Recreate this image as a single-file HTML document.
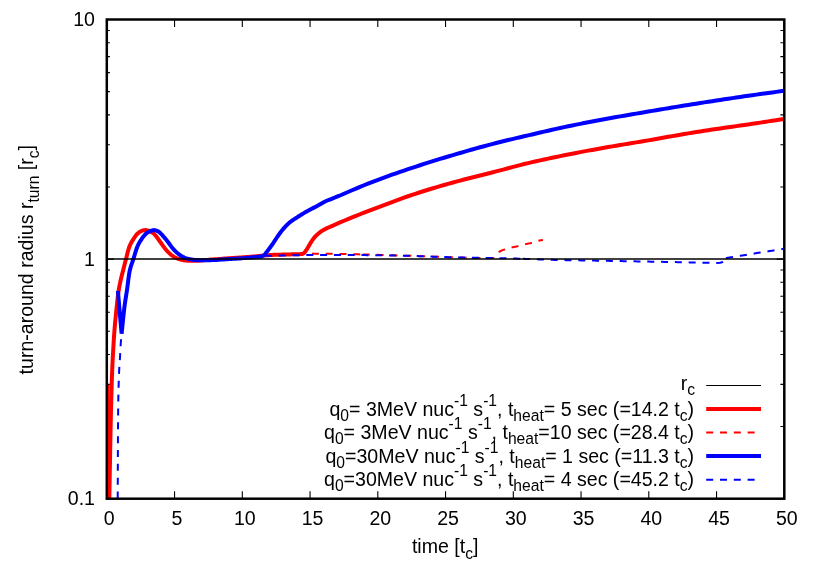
<!DOCTYPE html>
<html><head><meta charset="utf-8"><title>turn-around radius</title>
<style>html,body{margin:0;padding:0;background:#fff}body{width:830px;height:581px;overflow:hidden;font-family:"Liberation Sans", sans-serif}svg{display:block;will-change:transform}</style></head>
<body>
<svg width="830" height="581" viewBox="0 0 830 581" font-family='"Liberation Sans", sans-serif' font-size="19.58" fill="#000">
<rect width="830" height="581" fill="#fff"/>
<defs><clipPath id="c"><rect x="106.8" y="19.5" width="677.5" height="479.2"/></clipPath></defs>
<path d="M106.8,498.7 V491.2 M106.8,19.5 V26.9 M174.55,498.7 V491.2 M174.55,19.5 V26.9 M242.3,498.7 V491.2 M242.3,19.5 V26.9 M310.05,498.7 V491.2 M310.05,19.5 V26.9 M377.8,498.7 V491.2 M377.8,19.5 V26.9 M445.55,498.7 V491.2 M445.55,19.5 V26.9 M513.3,498.7 V491.2 M513.3,19.5 V26.9 M581.05,498.7 V491.2 M581.05,19.5 V26.9 M648.8,498.7 V491.2 M648.8,19.5 V26.9 M716.55,498.7 V491.2 M716.55,19.5 V26.9 M784.3,498.7 V491.2 M784.3,19.5 V26.9 M106.8,498.7 H113.9 M784.3,498.7 H776.8 M106.8,426.57 H109.9 M784.3,426.57 H780.4 M106.8,384.38 H109.9 M784.3,384.38 H780.4 M106.8,354.45 H109.9 M784.3,354.45 H780.4 M106.8,331.23 H109.9 M784.3,331.23 H780.4 M106.8,312.25 H109.9 M784.3,312.25 H780.4 M106.8,296.21 H109.9 M784.3,296.21 H780.4 M106.8,282.32 H109.9 M784.3,282.32 H780.4 M106.8,270.06 H109.9 M784.3,270.06 H780.4 M106.8,259.1 H113.9 M784.3,259.1 H776.8 M106.8,186.97 H109.9 M784.3,186.97 H780.4 M106.8,144.78 H109.9 M784.3,144.78 H780.4 M106.8,114.85 H109.9 M784.3,114.85 H780.4 M106.8,91.63 H109.9 M784.3,91.63 H780.4 M106.8,72.65 H109.9 M784.3,72.65 H780.4 M106.8,56.61 H109.9 M784.3,56.61 H780.4 M106.8,42.72 H109.9 M784.3,42.72 H780.4 M106.8,30.46 H109.9 M784.3,30.46 H780.4" stroke="#000" stroke-width="1.1" fill="none"/>
<g clip-path="url(#c)" fill="none" stroke-linejoin="miter" stroke-linecap="butt">
<path d="M107.6,385 L108.8,500" stroke="#ff0000" stroke-width="4"/>
<path d="M109.3,500 L109.41,493.71 L109.53,487.37 L109.64,481.01 L109.75,474.65 L109.86,468.34 L109.98,462.11 L110.09,455.98 L110.2,450 L110.3,444.79 L110.39,439.69 L110.48,434.67 L110.58,429.72 L110.67,424.8 L110.77,419.9 L110.88,414.97 L111,410 L111.13,404.91 L111.27,399.68 L111.41,394.4 L111.56,389.14 L111.71,383.99 L111.87,379.03 L112.04,374.34 L112.2,370 L112.32,367.17 L112.43,364.52 L112.55,362 L112.67,359.57 L112.8,357.2 L112.93,354.84 L113.06,352.45 L113.2,350 L113.34,347.51 L113.49,345.05 L113.63,342.6 L113.78,340.14 L113.94,337.66 L114.11,335.15 L114.3,332.61 L114.5,330 L114.75,326.96 L115.03,323.77 L115.33,320.51 L115.65,317.22 L115.97,313.97 L116.29,310.81 L116.6,307.8 L116.9,305 L117.11,303.04 L117.31,301.17 L117.51,299.38 L117.71,297.64 L117.92,295.94 L118.13,294.28 L118.35,292.64 L118.6,291 L118.83,289.55 L119.07,288.14 L119.32,286.75 L119.58,285.38 L119.85,284.02 L120.13,282.68 L120.41,281.34 L120.7,280 L120.99,278.73 L121.29,277.47 L121.6,276.23 L121.91,275 L122.23,273.76 L122.55,272.52 L122.88,271.27 L123.2,270 L123.54,268.66 L123.88,267.31 L124.22,265.95 L124.56,264.58 L124.91,263.21 L125.26,261.82 L125.63,260.42 L126,259 L126.42,257.4 L126.83,255.72 L127.26,254.01 L127.7,252.28 L128.15,250.6 L128.61,248.98 L129.1,247.47 L129.6,246.1 L129.97,245.22 L130.34,244.41 L130.72,243.65 L131.11,242.92 L131.51,242.22 L131.92,241.52 L132.35,240.82 L132.8,240.1 L133.3,239.31 L133.82,238.49 L134.36,237.67 L134.91,236.86 L135.48,236.07 L136.05,235.32 L136.63,234.63 L137.2,234 L137.65,233.55 L138.09,233.14 L138.54,232.75 L139,232.38 L139.46,232.05 L139.92,231.74 L140.4,231.46 L140.9,231.2 L141.39,230.97 L141.9,230.77 L142.42,230.58 L142.94,230.42 L143.48,230.29 L144.01,230.19 L144.56,230.13 L145.1,230.1 L145.69,230.11 L146.29,230.17 L146.9,230.26 L147.51,230.39 L148.12,230.55 L148.73,230.74 L149.32,230.96 L149.9,231.2 L150.5,231.48 L151.09,231.79 L151.66,232.14 L152.23,232.51 L152.79,232.92 L153.36,233.37 L153.93,233.87 L154.5,234.4 L155.31,235.25 L156.12,236.22 L156.94,237.29 L157.76,238.42 L158.57,239.59 L159.39,240.76 L160.2,241.91 L161,243 L161.76,244.02 L162.5,245.05 L163.23,246.08 L163.97,247.1 L164.7,248.1 L165.45,249.08 L166.21,250.01 L167,250.9 L167.73,251.67 L168.47,252.42 L169.22,253.15 L169.97,253.86 L170.74,254.53 L171.52,255.16 L172.31,255.75 L173.1,256.3 L173.83,256.75 L174.56,257.17 L175.3,257.56 L176.06,257.91 L176.81,258.24 L177.57,258.55 L178.34,258.83 L179.1,259.1 L179.84,259.33 L180.57,259.54 L181.31,259.73 L182.06,259.89 L182.8,260.04 L183.56,260.17 L184.33,260.29 L185.1,260.4 L185.93,260.5 L186.77,260.59 L187.62,260.65 L188.48,260.7 L189.35,260.74 L190.23,260.77 L191.11,260.79 L192,260.8 L192.95,260.8 L193.9,260.79 L194.85,260.76 L195.81,260.73 L196.79,260.68 L197.81,260.63 L198.88,260.57 L200,260.5 L201.65,260.39 L203.42,260.26 L205.28,260.11 L207.21,259.95 L209.17,259.78 L211.14,259.61 L213.09,259.45 L215,259.3 L216.87,259.16 L218.75,259.02 L220.62,258.88 L222.5,258.74 L224.37,258.6 L226.25,258.47 L228.12,258.33 L230,258.2 L231.9,258.07 L233.82,257.94 L235.76,257.82 L237.69,257.69 L239.6,257.57 L241.46,257.45 L243.27,257.32 L245,257.2 L246.35,257.1 L247.64,257 L248.9,256.91 L250.13,256.81 L251.34,256.71 L252.55,256.61 L253.76,256.51 L255,256.4 L256.25,256.28 L257.5,256.15 L258.75,256.02 L260,255.89 L261.25,255.75 L262.5,255.63 L263.75,255.51 L265,255.4 L266.24,255.3 L267.48,255.21 L268.71,255.13 L269.94,255.06 L271.18,254.98 L272.44,254.92 L273.71,254.86 L275,254.8 L276.44,254.75 L277.91,254.7 L279.39,254.66 L280.89,254.63 L282.4,254.6 L283.92,254.57 L285.46,254.54 L287,254.5 L288.65,254.45 L290.32,254.41 L292,254.36 L293.7,254.31 L295.4,254.25 L297.11,254.2 L298.81,254.15 L300.5,254.1 L300.79,254.07 L301.09,254.05 L301.38,254.04 L301.68,254.02 L301.97,253.99 L302.26,253.95 L302.54,253.89 L302.8,253.8 L303.05,253.69 L303.28,253.55 L303.5,253.41 L303.72,253.24 L303.94,253.06 L304.15,252.86 L304.37,252.64 L304.6,252.4 L304.96,251.99 L305.32,251.52 L305.69,251 L306.06,250.43 L306.44,249.85 L306.82,249.24 L307.21,248.62 L307.6,248 L308.08,247.22 L308.57,246.4 L309.06,245.54 L309.57,244.66 L310.07,243.78 L310.58,242.91 L311.09,242.08 L311.6,241.3 L312.04,240.66 L312.46,240.04 L312.89,239.44 L313.32,238.86 L313.76,238.29 L314.21,237.72 L314.69,237.16 L315.2,236.6 L315.79,235.98 L316.41,235.36 L317.06,234.75 L317.73,234.14 L318.41,233.55 L319.1,232.97 L319.8,232.42 L320.5,231.9 L321.17,231.43 L321.84,230.98 L322.52,230.56 L323.21,230.15 L323.91,229.76 L324.62,229.37 L325.35,228.99 L326.1,228.6 L326.96,228.18 L327.85,227.77 L328.77,227.36 L329.7,226.97 L330.64,226.57 L331.58,226.18 L332.5,225.79 L333.4,225.4 L334.24,225.02 L335.07,224.65 L335.9,224.27 L336.72,223.9 L337.54,223.52 L338.36,223.15 L339.18,222.77 L340,222.4 L344,220.74 L348.01,219.1 L352.01,217.47 L356.01,215.86 L360.01,214.26 L364.02,212.68 L368.02,211.12 L372.02,209.57 L376.02,208.04 L380.03,206.52 L384.03,205.01 L388.03,203.51 L392.04,202.02 L396.04,200.54 L400.04,199.08 L404.04,197.65 L408.05,196.25 L412.05,194.87 L416.05,193.54 L420.05,192.25 L424.06,190.98 L428.06,189.75 L432.06,188.53 L436.06,187.34 L440.07,186.17 L444.07,185.02 L448.07,183.89 L452.08,182.77 L456.08,181.67 L460.08,180.59 L464.08,179.53 L468.09,178.49 L472.09,177.47 L476.09,176.47 L480.09,175.46 L484.1,174.47 L488.1,173.46 L492.1,172.45 L496.11,171.43 L500.11,170.39 L504.11,169.33 L508.11,168.26 L512.12,167.18 L516.12,166.12 L520.12,165.08 L524.12,164.06 L528.13,163.09 L532.13,162.15 L536.13,161.24 L540.14,160.34 L544.14,159.46 L548.14,158.6 L552.14,157.76 L556.15,156.92 L560.15,156.1 L564.15,155.29 L568.15,154.49 L572.16,153.7 L576.16,152.92 L580.16,152.15 L584.16,151.4 L588.17,150.65 L592.17,149.91 L596.17,149.19 L600.18,148.46 L604.18,147.75 L608.18,147.05 L612.18,146.36 L616.19,145.68 L620.19,145.01 L624.19,144.35 L628.19,143.69 L632.2,143.03 L636.2,142.37 L640.2,141.71 L644.21,141.03 L648.21,140.35 L652.21,139.66 L656.21,138.96 L660.22,138.25 L664.22,137.55 L668.22,136.84 L672.22,136.13 L676.23,135.43 L680.23,134.73 L684.23,134.04 L688.24,133.36 L692.24,132.7 L696.24,132.05 L700.24,131.41 L704.25,130.8 L708.25,130.19 L712.25,129.59 L716.25,129 L720.26,128.42 L724.26,127.85 L728.26,127.28 L732.26,126.7 L736.27,126.13 L740.27,125.56 L744.27,124.98 L748.28,124.4 L752.28,123.81 L756.28,123.21 L760.28,122.61 L764.29,122 L768.29,121.38 L772.29,120.77 L776.29,120.15 L780.3,119.52 L784.3,118.9" stroke="#ff0000" stroke-width="4"/>
<path d="M300,253.9 L301.5,253.89 L303,253.87 L304.5,253.86 L306,253.85 L307.5,253.84 L309,253.83 L310.5,253.83 L312,253.82 L313.5,253.82 L315,253.81 L316.5,253.81 L318,253.81 L319.5,253.8 L321,253.8 L322.5,253.8 L324,253.8 L325.5,253.8 L327,253.8 L328.5,253.8 L330,253.8 L331.5,253.8 L333,253.81 L334.5,253.82 L336,253.84 L337.5,253.86 L339,253.89 L340.5,253.91 L342,253.95 L343.5,253.98 L345,254.01 L346.5,254.05 L348,254.09 L349.5,254.13 L351,254.17 L352.5,254.21 L354,254.25 L355.5,254.29 L357,254.33 L358.5,254.36 L360,254.4 L361.5,254.43" stroke="#ff0000" stroke-width="2" stroke-dasharray="7 6.8" stroke-dashoffset="1.9"/>
<path d="M361.5,254.43 L363,254.47 L364.5,254.51 L366,254.54 L367.5,254.58 L369,254.62 L370.5,254.66 L372,254.7 L373.5,254.74 L375,254.78 L376.5,254.82 L378,254.86 L379.5,254.9 L381,254.94 L382.5,254.98 L384,255.03 L385.5,255.07 L387,255.11 L388.5,255.16 L390,255.2 L391.5,255.25 L393,255.29 L394.5,255.33 L396,255.38 L397.5,255.42 L399,255.47 L400.5,255.52 L402,255.56 L403.5,255.61 L405,255.66 L406.5,255.71 L408,255.76 L409.5,255.81 L411,255.86 L412.5,255.91 L414,255.97 L415.5,256.02 L417,256.07 L418.5,256.13 L420,256.18 L421.5,256.24 L423,256.29 L424.5,256.35 L426,256.4 L427.5,256.45 L429,256.51 L430.5,256.56 L432,256.62 L433.5,256.67 L435,256.72 L436.5,256.77 L438,256.82 L439.5,256.88 L441,256.92 L442.5,256.97 L444,257.02 L445.5,257.07 L447,257.11 L448.5,257.16 L450,257.2 L451.5,257.24 L453,257.29 L454.5,257.33 L456,257.38 L457.5,257.43 L459,257.48 L460.5,257.53 L462,257.58 L463.5,257.63 L465,257.67 L466.5,257.72 L468,257.77 L469.5,257.81 L471,257.85 L472.5,257.89 L474,257.93 L475.5,257.96 L477,257.99 L478.5,258.02 L480,258.05 L481.5,258.07 L483,258.08 L484.5,258.09 L486,258.1 L487.5,258.1 L489,258.09 L490.5,258.06 L492,258.03 L493.5,258 L494.12,257.3 L494.75,256.57 L495.39,255.83 L496.02,255.1 L496.65,254.39 L497.26,253.72 L497.84,253.12 L498.4,252.6 L498.74,252.3 L499.07,252.04 L499.38,251.8 L499.68,251.58 L499.99,251.37 L500.31,251.18 L500.64,250.99 L501,250.8 L501.44,250.59 L501.9,250.4 L502.38,250.22 L502.88,250.06 L503.39,249.9 L503.91,249.74 L504.45,249.57 L505,249.4 L505.7,249.18 L506.44,248.95 L507.2,248.71 L507.98,248.48 L508.78,248.25 L509.58,248.03 L510.39,247.81 L511.2,247.6 L512.06,247.39 L512.95,247.2 L513.84,247.02 L514.74,246.85 L515.64,246.67 L516.54,246.49 L517.43,246.3 L518.3,246.1 L519.13,245.89 L519.94,245.67 L520.75,245.44 L521.55,245.2 L522.36,244.97 L523.16,244.73 L523.98,244.51 L524.8,244.3 L525.66,244.1 L526.54,243.91 L527.42,243.74 L528.31,243.56 L529.19,243.39 L530.07,243.21 L530.94,243.01 L531.8,242.8 L532.61,242.57 L533.42,242.31 L534.23,242.04 L535.02,241.76 L535.81,241.49 L536.59,241.23 L537.35,241 L538.1,240.8 L538.73,240.66 L539.34,240.54 L539.94,240.44 L540.53,240.35 L541.12,240.26 L541.71,240.18 L542.3,240.09 L542.9,240" stroke="#ff0000" stroke-width="2" stroke-dasharray="7 6.85" stroke-dashoffset="12.6"/>
<path d="M117.9,290.8 L121.6,333.7 L121.99,330.05 L122.37,326.31 L122.76,322.53 L123.14,318.77 L123.53,315.08 L123.92,311.52 L124.31,308.14 L124.7,305 L124.98,302.91 L125.27,300.96 L125.55,299.11 L125.83,297.33 L126.12,295.57 L126.41,293.79 L126.7,291.95 L127,290 L127.34,287.6 L127.66,285.06 L127.98,282.44 L128.31,279.79 L128.66,277.17 L129.03,274.63 L129.44,272.22 L129.9,270 L130.28,268.46 L130.69,267.02 L131.11,265.65 L131.56,264.33 L132.01,263.03 L132.47,261.73 L132.94,260.39 L133.4,259 L133.9,257.4 L134.41,255.72 L134.92,254.01 L135.44,252.29 L135.97,250.6 L136.5,248.98 L137.05,247.47 L137.6,246.1 L137.99,245.22 L138.38,244.41 L138.77,243.65 L139.16,242.92 L139.57,242.22 L139.99,241.52 L140.43,240.82 L140.9,240.1 L141.44,239.3 L142.01,238.48 L142.6,237.65 L143.22,236.82 L143.84,236.03 L144.47,235.29 L145.09,234.6 L145.7,234 L146.14,233.61 L146.58,233.25 L147.02,232.92 L147.45,232.63 L147.9,232.35 L148.35,232.09 L148.82,231.84 L149.3,231.6 L149.84,231.34 L150.39,231.08 L150.97,230.83 L151.55,230.6 L152.14,230.4 L152.73,230.24 L153.32,230.14 L153.9,230.1 L154.49,230.14 L155.09,230.23 L155.7,230.39 L156.31,230.58 L156.9,230.81 L157.47,231.07 L158.01,231.33 L158.5,231.6 L158.86,231.82 L159.19,232.05 L159.49,232.3 L159.77,232.55 L160.05,232.83 L160.34,233.13 L160.66,233.45 L161,233.8 L161.64,234.46 L162.34,235.22 L163.09,236.06 L163.87,236.95 L164.66,237.88 L165.46,238.83 L166.24,239.77 L167,240.7 L167.77,241.68 L168.53,242.71 L169.28,243.76 L170.03,244.81 L170.78,245.86 L171.54,246.89 L172.31,247.87 L173.1,248.8 L173.82,249.6 L174.55,250.38 L175.29,251.15 L176.03,251.88 L176.78,252.59 L177.55,253.26 L178.32,253.9 L179.1,254.5 L179.82,255.01 L180.56,255.49 L181.3,255.94 L182.05,256.37 L182.8,256.76 L183.57,257.13 L184.33,257.48 L185.1,257.8 L185.84,258.08 L186.58,258.33 L187.32,258.55 L188.07,258.75 L188.83,258.93 L189.58,259.1 L190.34,259.25 L191.1,259.4 L191.85,259.53 L192.59,259.65 L193.33,259.75 L194.07,259.84 L194.82,259.91 L195.59,259.98 L196.38,260.04 L197.2,260.1 L198.21,260.16 L199.25,260.21 L200.32,260.25 L201.41,260.28 L202.53,260.3 L203.67,260.31 L204.82,260.31 L206,260.3 L207.41,260.28 L208.87,260.24 L210.36,260.18 L211.88,260.12 L213.42,260.04 L214.96,259.96 L216.49,259.88 L218,259.8 L219.51,259.71 L221.03,259.62 L222.55,259.52 L224.07,259.41 L225.58,259.3 L227.08,259.2 L228.55,259.09 L230,259 L231.28,258.92 L232.52,258.85 L233.74,258.78 L234.95,258.72 L236.16,258.65 L237.4,258.57 L238.67,258.49 L240,258.4 L241.7,258.27 L243.51,258.13 L245.39,257.98 L247.3,257.82 L249.18,257.65 L251.01,257.49 L252.73,257.34 L254.3,257.2 L255.32,257.11 L256.27,257.02 L257.18,256.93 L258.05,256.84 L258.91,256.76 L259.76,256.67 L260.62,256.59 L261.5,256.5 L261.82,256.34 L262.14,256.2 L262.46,256.05 L262.79,255.9 L263.11,255.75 L263.42,255.59 L263.72,255.4 L264,255.2 L264.26,254.98 L264.5,254.75 L264.72,254.5 L264.93,254.25 L265.15,253.97 L265.37,253.67 L265.62,253.35 L265.9,253 L266.5,252.25 L267.17,251.38 L267.91,250.42 L268.69,249.38 L269.5,248.3 L270.32,247.19 L271.12,246.09 L271.9,245 L272.74,243.79 L273.61,242.5 L274.49,241.18 L275.36,239.85 L276.22,238.53 L277.05,237.27 L277.85,236.08 L278.6,235 L279.09,234.31 L279.56,233.66 L280.01,233.04 L280.45,232.45 L280.88,231.88 L281.31,231.32 L281.75,230.76 L282.2,230.2 L282.64,229.66 L283.08,229.13 L283.53,228.61 L283.98,228.09 L284.43,227.58 L284.88,227.08 L285.34,226.59 L285.8,226.1 L286.25,225.64 L286.71,225.18 L287.17,224.72 L287.63,224.28 L288.1,223.84 L288.56,223.41 L289.03,223 L289.5,222.6 L289.93,222.24 L290.37,221.9 L290.8,221.57 L291.23,221.25 L291.67,220.93 L292.11,220.62 L292.55,220.31 L293,220 L293.45,219.69 L293.88,219.4 L294.32,219.12 L294.76,218.83 L295.21,218.54 L295.68,218.24 L296.18,217.93 L296.7,217.6 L297.48,217.1 L298.33,216.56 L299.22,215.99 L300.14,215.41 L301.08,214.81 L302.03,214.22 L302.98,213.65 L303.9,213.1 L304.8,212.58 L305.71,212.07 L306.63,211.56 L307.54,211.07 L308.46,210.58 L309.37,210.08 L310.29,209.59 L311.2,209.1 L312.1,208.61 L313,208.12 L313.9,207.63 L314.8,207.15 L315.7,206.66 L316.6,206.17 L317.5,205.69 L318.4,205.2 L319.29,204.71 L320.17,204.21 L321.05,203.72 L321.93,203.22 L322.81,202.73 L323.72,202.24 L324.64,201.77 L325.6,201.3 L326.73,200.79 L327.92,200.28 L329.15,199.78 L330.39,199.29 L331.63,198.81 L332.82,198.35 L333.96,197.91 L335,197.5 L335.7,197.22 L336.36,196.95 L336.99,196.7 L337.6,196.46 L338.19,196.22 L338.79,195.98 L339.39,195.75 L340,195.5 L344,193.73 L348.01,191.98 L352.01,190.26 L356.01,188.57 L360.01,186.9 L364.02,185.27 L368.02,183.66 L372.02,182.09 L376.02,180.54 L380.03,179.03 L384.03,177.54 L388.03,176.09 L392.04,174.67 L396.04,173.27 L400.04,171.89 L404.04,170.53 L408.05,169.19 L412.05,167.86 L416.05,166.54 L420.05,165.24 L424.06,163.95 L428.06,162.68 L432.06,161.42 L436.06,160.17 L440.07,158.94 L444.07,157.73 L448.07,156.53 L452.08,155.34 L456.08,154.16 L460.08,152.99 L464.08,151.83 L468.09,150.68 L472.09,149.54 L476.09,148.42 L480.09,147.3 L484.1,146.21 L488.1,145.13 L492.1,144.07 L496.11,143.03 L500.11,142.01 L504.11,141.03 L508.11,140.06 L512.12,139.11 L516.12,138.17 L520.12,137.24 L524.12,136.32 L528.13,135.39 L532.13,134.45 L536.13,133.51 L540.14,132.57 L544.14,131.64 L548.14,130.71 L552.14,129.79 L556.15,128.89 L560.15,128 L564.15,127.13 L568.15,126.28 L572.16,125.45 L576.16,124.64 L580.16,123.84 L584.16,123.05 L588.17,122.28 L592.17,121.51 L596.17,120.75 L600.18,120.01 L604.18,119.26 L608.18,118.53 L612.18,117.8 L616.19,117.08 L620.19,116.37 L624.19,115.67 L628.19,114.98 L632.2,114.29 L636.2,113.6 L640.2,112.92 L644.21,112.24 L648.21,111.56 L652.21,110.88 L656.21,110.2 L660.22,109.53 L664.22,108.86 L668.22,108.19 L672.22,107.53 L676.23,106.87 L680.23,106.22 L684.23,105.57 L688.24,104.92 L692.24,104.28 L696.24,103.65 L700.24,103.02 L704.25,102.39 L708.25,101.77 L712.25,101.15 L716.25,100.53 L720.26,99.92 L724.26,99.32 L728.26,98.71 L732.26,98.11 L736.27,97.52 L740.27,96.93 L744.27,96.34 L748.28,95.76 L752.28,95.19 L756.28,94.62 L760.28,94.05 L764.29,93.5 L768.29,92.95 L772.29,92.4 L776.29,91.86 L780.3,91.33 L784.3,90.8" stroke="#0000ff" stroke-width="4" stroke-miterlimit="10"/>
<path d="M121.6,333.7 L121.5,334.85 L121.4,335.98 L121.29,337.1 L121.19,338.23 L121.09,339.37 L120.99,340.54 L120.89,341.75 L120.8,343 L120.69,344.61 L120.59,346.29 L120.49,348.02 L120.39,349.79 L120.3,351.59 L120.2,353.4 L120.1,355.21 L120,357 L119.89,358.82 L119.77,360.6 L119.66,362.38 L119.54,364.18 L119.42,366.01 L119.31,367.91 L119.2,369.9 L119.1,372 L118.97,375.08 L118.85,378.37 L118.74,381.82 L118.64,385.4 L118.54,389.05 L118.45,392.73 L118.37,396.39 L118.3,400 L118.24,403.61 L118.19,407.13 L118.14,410.62 L118.11,414.15 L118.08,417.79 L118.06,421.6 L118.03,425.64 L118,430 L117.95,437.35 L117.91,445.45 L117.87,454.11 L117.84,463.17 L117.8,472.47 L117.77,481.82 L117.74,491.05 L117.7,500" stroke="#0000ff" stroke-width="2" stroke-dasharray="7 6.85" stroke-dashoffset="8.25"/>
<path d="M263,255.8 L264.5,255.77 L266,255.74 L267.5,255.71 L269.01,255.68 L270.51,255.66 L272.01,255.63 L273.51,255.6 L275.01,255.58 L276.51,255.55 L278.02,255.52 L279.52,255.5 L281.02,255.47 L282.52,255.45 L284.02,255.43 L285.52,255.4 L287.03,255.38 L288.53,255.36 L290.03,255.33 L291.53,255.31 L293.03,255.29 L294.53,255.27 L296.04,255.25 L297.54,255.23 L299.04,255.21 L300.54,255.19 L302.04,255.17 L303.54,255.15 L305.05,255.13 L306.55,255.11 L308.05,255.09 L309.55,255.07 L311.05,255.05 L312.55,255.03 L314.06,255.02 L315.56,255 L317.06,254.98 L318.56,254.96 L320.06,254.95 L321.56,254.94 L323.07,254.93 L324.57,254.92 L326.07,254.91 L327.57,254.9 L329.07,254.9 L330.57,254.9 L332.08,254.9 L333.58,254.9 L335.08,254.91 L336.58,254.91 L338.08,254.91 L339.58,254.92 L341.09,254.92 L342.59,254.93 L344.09,254.94 L345.59,254.95 L347.09,254.96 L348.59,254.97 L350.1,254.98 L351.6,254.99 L353.1,255 L354.6,255.01 L356.1,255.02 L357.6,255.04 L359.11,255.05 L360.61,255.07 L362.11,255.08 L363.61,255.1 L365.11,255.11 L366.61,255.13 L368.12,255.15 L369.62,255.17 L371.12,255.18 L372.62,255.2 L374.12,255.22 L375.62,255.24 L377.13,255.26 L378.63,255.28 L380.13,255.3 L381.63,255.32 L383.13,255.35 L384.63,255.37 L386.14,255.39 L387.64,255.41 L389.14,255.43 L390.64,255.46 L392.14,255.48 L393.64,255.5 L395.15,255.52 L396.65,255.55 L398.15,255.57 L399.65,255.59 L401.15,255.62 L402.65,255.65 L404.16,255.68 L405.66,255.71 L407.16,255.75 L408.66,255.79 L410.16,255.83 L411.66,255.88 L413.17,255.92 L414.67,255.97 L416.17,256.02 L417.67,256.08 L419.17,256.13 L420.67,256.18 L422.18,256.24 L423.68,256.3 L425.18,256.35 L426.68,256.41 L428.18,256.47 L429.68,256.52 L431.19,256.58 L432.69,256.64 L434.19,256.69 L435.69,256.75 L437.19,256.8 L438.69,256.86 L440.2,256.91 L441.7,256.96 L443.2,257.01 L444.7,257.05 L446.2,257.1 L447.7,257.14 L449.21,257.18 L450.71,257.22 L452.21,257.25 L453.71,257.29 L455.21,257.32 L456.71,257.35 L458.22,257.38 L459.72,257.42 L461.22,257.45 L462.72,257.48 L464.22,257.5 L465.72,257.53 L467.23,257.56 L468.73,257.59 L470.23,257.62 L471.73,257.64 L473.23,257.67 L474.73,257.7 L476.24,257.73 L477.74,257.76 L479.24,257.78 L480.74,257.81 L482.24,257.84 L483.74,257.87 L485.25,257.9 L486.75,257.93 L488.25,257.96 L489.75,257.99 L491.25,258.03 L492.75,258.06 L494.25,258.09 L495.76,258.12 L497.26,258.16 L498.76,258.19 L500.26,258.22 L501.76,258.26 L503.26,258.29 L504.77,258.32 L506.27,258.36 L507.77,258.39 L509.27,258.43 L510.77,258.47 L512.27,258.5 L513.78,258.54 L515.28,258.58 L516.78,258.62 L518.28,258.66 L519.78,258.7 L521.28,258.74 L521.5,258.75" stroke="#0000ff" stroke-width="2" stroke-dasharray="7 6.8" stroke-dashoffset="11.9"/>
<path d="M521.5,258.75 L522.79,258.79 L524.29,258.84 L525.79,258.89 L527.29,258.95 L528.79,259 L530.29,259.06 L531.8,259.12 L533.3,259.19 L534.8,259.25 L536.3,259.31 L537.8,259.37 L539.3,259.44 L540.81,259.5 L542.31,259.55 L543.81,259.61 L545.31,259.66 L546.81,259.71 L548.31,259.75 L549.82,259.8 L551.32,259.83 L552.82,259.87 L554.32,259.9 L555.82,259.94 L557.32,259.97 L558.83,260 L560.33,260.03 L561.83,260.06 L563.33,260.09 L564.83,260.12 L566.33,260.14 L567.84,260.17 L569.34,260.2 L570.84,260.22 L572.34,260.25 L573.84,260.27 L575.34,260.3 L576.85,260.32 L578.35,260.35 L579.85,260.37 L581.35,260.39 L582.85,260.42 L584.35,260.44 L585.86,260.46 L587.36,260.49 L588.86,260.51 L590.36,260.54 L591.86,260.56 L593.36,260.58 L594.87,260.61 L596.37,260.64 L597.87,260.66 L599.37,260.69 L600.87,260.72 L602.37,260.74 L603.88,260.77 L605.38,260.8 L606.88,260.83 L608.38,260.85 L609.88,260.88 L611.38,260.91 L612.89,260.94 L614.39,260.96 L615.89,260.99 L617.39,261.02 L618.89,261.04 L620.39,261.07 L621.9,261.1 L623.4,261.13 L624.9,261.15 L626.4,261.18 L627.9,261.21 L629.4,261.24 L630.91,261.27 L632.41,261.29 L633.91,261.32 L635.41,261.35 L636.91,261.38 L638.41,261.4 L639.92,261.43 L641.42,261.46 L642.92,261.49 L644.42,261.52 L645.92,261.54 L647.42,261.57 L648.93,261.6 L650.43,261.63 L651.93,261.66 L653.43,261.68 L654.93,261.71 L656.43,261.74 L657.94,261.77 L659.44,261.8 L660.94,261.83 L662.44,261.85 L663.94,261.88 L665.44,261.91 L666.95,261.94 L668.45,261.97 L669.95,262 L671.45,262.03 L672.95,262.06 L674.45,262.09 L675.96,262.12 L677.46,262.15 L678.96,262.18 L680.46,262.21 L681.96,262.24 L683.46,262.27 L684.97,262.3 L686.47,262.33 L687.97,262.36 L689.47,262.39 L690.97,262.42 L692.47,262.45 L693.98,262.48 L695.48,262.51 L696.98,262.54 L698.48,262.57 L699.98,262.6 L701.48,262.63 L702.99,262.66 L704.49,262.68 L705.99,262.71 L707.49,262.74 L708.99,262.77 L710.49,262.79 L712,262.82 L713.5,262.85 L715,262.87 L716.5,262.9 L720,262.8 L722,262.3 L723.2,261.4" stroke="#0000ff" stroke-width="2" stroke-dasharray="7 6.8" stroke-dashoffset="12.2"/>
<path d="M725,259.2 L725.12,259.09 L725.23,258.97 L725.34,258.85 L725.45,258.73 L725.56,258.61 L725.69,258.5 L725.83,258.4 L726,258.3 L726.33,258.16 L726.71,258.04 L727.14,257.93 L727.59,257.83 L728.07,257.75 L728.56,257.67 L729.04,257.58 L729.5,257.5 L729.96,257.42 L730.41,257.34 L730.86,257.27 L731.32,257.2 L731.79,257.13 L732.27,257.06 L732.77,256.98 L733.3,256.9 L734.06,256.78 L734.86,256.65 L735.7,256.51 L736.57,256.36 L737.46,256.22 L738.35,256.08 L739.23,255.93 L740.1,255.8 L740.95,255.67 L741.79,255.55 L742.63,255.43 L743.47,255.32 L744.32,255.2 L745.18,255.07 L746.08,254.94 L747,254.8 L748.15,254.61 L749.34,254.42 L750.56,254.21 L751.8,253.99 L753.07,253.77 L754.36,253.55 L755.67,253.32 L757,253.1 L758.54,252.85 L760.12,252.59 L761.72,252.33 L763.35,252.06 L765,251.8 L766.67,251.53 L768.33,251.26 L770,251 L771.75,250.72 L773.53,250.45 L775.31,250.17 L777.11,249.9 L778.91,249.62 L780.71,249.35 L782.51,249.07 L784.3,248.8" stroke="#0000ff" stroke-width="2" stroke-dasharray="7.1 6.9" stroke-dashoffset="12.6"/>
<path d="M106.8,259 L784.3,259" stroke="#000" stroke-width="1.6"/>
</g>
<rect x="106.8" y="19.5" width="677.5" height="479.2" fill="none" stroke="#000" stroke-width="2.5"/>
<text transform="translate(109.3,524.8) scale(1,1.03)" text-anchor="middle" xml:space="preserve">0</text>
<text transform="translate(177.05,524.8) scale(1,1.03)" text-anchor="middle" xml:space="preserve">5</text>
<text transform="translate(244.8,524.8) scale(1,1.03)" text-anchor="middle" xml:space="preserve">10</text>
<text transform="translate(312.55,524.8) scale(1,1.03)" text-anchor="middle" xml:space="preserve">15</text>
<text transform="translate(380.3,524.8) scale(1,1.03)" text-anchor="middle" xml:space="preserve">20</text>
<text transform="translate(448.05,524.8) scale(1,1.03)" text-anchor="middle" xml:space="preserve">25</text>
<text transform="translate(515.8,524.8) scale(1,1.03)" text-anchor="middle" xml:space="preserve">30</text>
<text transform="translate(583.55,524.8) scale(1,1.03)" text-anchor="middle" xml:space="preserve">35</text>
<text transform="translate(651.3,524.8) scale(1,1.03)" text-anchor="middle" xml:space="preserve">40</text>
<text transform="translate(719.05,524.8) scale(1,1.03)" text-anchor="middle" xml:space="preserve">45</text>
<text transform="translate(786.8,524.8) scale(1,1.03)" text-anchor="middle" xml:space="preserve">50</text>
<text transform="translate(95,25.9) scale(1,1.03)" text-anchor="end" xml:space="preserve">10</text>
<text transform="translate(95,265.5) scale(1,1.03)" text-anchor="end" xml:space="preserve">1</text>
<text transform="translate(95,505.1) scale(1,1.03)" text-anchor="end" xml:space="preserve">0.1</text>
<text transform="translate(445.2,552.9) scale(1,1.03)" text-anchor="middle" xml:space="preserve">time [t<tspan font-size="15.66" dy="5.5">c</tspan><tspan dy="-5.5">]</tspan></text>
<text transform="translate(33.4,259.7) rotate(-90) scale(1,1.03)" text-anchor="middle" xml:space="preserve">turn-around radius r<tspan font-size="15.66" dy="5.5">turn</tspan><tspan dy="-5.5"> [r</tspan><tspan font-size="15.66" dy="5.5">c</tspan><tspan dy="-5.5">]</tspan></text>
<text transform="translate(695,389.5) scale(1,1.03)" text-anchor="end" xml:space="preserve">r<tspan font-size="15.66" dy="5.5">c</tspan><tspan dy="-5.5"></tspan></text>
<path d="M706.2,385.5 H761.0" stroke="#000" stroke-width="1.0" fill="none"/>
<text transform="translate(694.1,415.5) scale(1,1.03)" text-anchor="end" xml:space="preserve">q<tspan font-size="15.66" dy="5.5">0</tspan><tspan dy="-5.5">= 3MeV nuc</tspan><tspan font-size="15.66" dy="-9.1">-1</tspan><tspan dy="9.1"> s</tspan><tspan font-size="15.66" dy="-9.1">-1</tspan><tspan dy="9.1">, t</tspan><tspan font-size="15.66" dy="5.5">heat</tspan><tspan dy="-5.5">= 5 sec (=14.2 t</tspan><tspan font-size="15.66" dy="5.5">c</tspan><tspan dy="-5.5">)</tspan></text>
<path d="M706.2,409.0 H761.0" stroke="#ff0000" stroke-width="4" fill="none"/>
<text transform="translate(694.1,438.6) scale(1,1.03)" text-anchor="end" xml:space="preserve">q<tspan font-size="15.66" dy="5.5">0</tspan><tspan dy="-5.5">= 3MeV nuc</tspan><tspan font-size="15.66" dy="-9.1">-1</tspan><tspan dy="9.1"> s</tspan><tspan font-size="15.66" dy="-9.1">-1</tspan><tspan dy="9.1">, t</tspan><tspan font-size="15.66" dy="5.5">heat</tspan><tspan dy="-5.5">=10 sec (=28.4 t</tspan><tspan font-size="15.66" dy="5.5">c</tspan><tspan dy="-5.5">)</tspan></text>
<path d="M706.2,432.6 H761.0" stroke="#ff0000" stroke-width="2" fill="none" stroke-dasharray="7 6.8"/>
<text transform="translate(694.1,462.5) scale(1,1.03)" text-anchor="end" xml:space="preserve">q<tspan font-size="15.66" dy="5.5">0</tspan><tspan dy="-5.5">=30MeV nuc</tspan><tspan font-size="15.66" dy="-9.1">-1</tspan><tspan dy="9.1"> s</tspan><tspan font-size="15.66" dy="-9.1">-1</tspan><tspan dy="9.1">, t</tspan><tspan font-size="15.66" dy="5.5">heat</tspan><tspan dy="-5.5">= 1 sec (=11.3 t</tspan><tspan font-size="15.66" dy="5.5">c</tspan><tspan dy="-5.5">)</tspan></text>
<path d="M706.2,456.0 H761.0" stroke="#0000ff" stroke-width="4" fill="none"/>
<text transform="translate(694.1,485.7) scale(1,1.03)" text-anchor="end" xml:space="preserve">q<tspan font-size="15.66" dy="5.5">0</tspan><tspan dy="-5.5">=30MeV nuc</tspan><tspan font-size="15.66" dy="-9.1">-1</tspan><tspan dy="9.1"> s</tspan><tspan font-size="15.66" dy="-9.1">-1</tspan><tspan dy="9.1">, t</tspan><tspan font-size="15.66" dy="5.5">heat</tspan><tspan dy="-5.5">= 4 sec (=45.2 t</tspan><tspan font-size="15.66" dy="5.5">c</tspan><tspan dy="-5.5">)</tspan></text>
<path d="M706.2,479.7 H761.0" stroke="#0000ff" stroke-width="2" fill="none" stroke-dasharray="7 6.8"/>
</svg>
</body></html>
